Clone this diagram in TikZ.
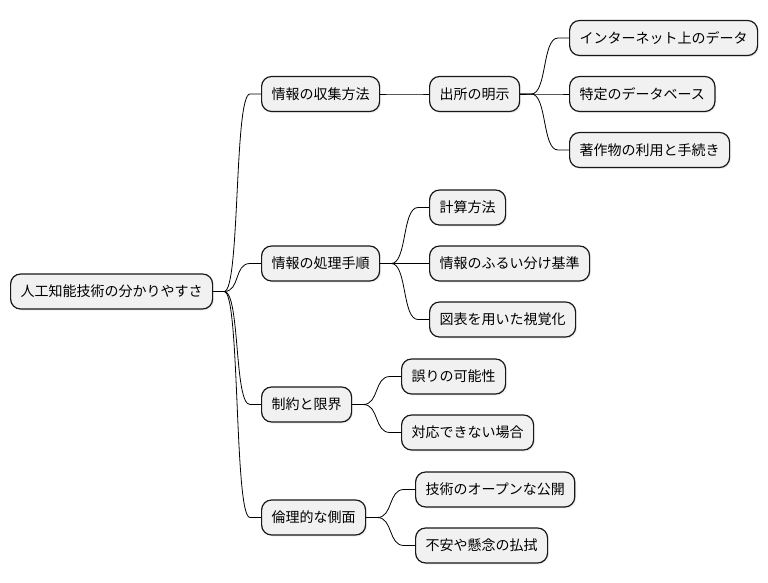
\documentclass[tikz,border=0pt]{standalone}
\usepackage{fontspec}
\setmainfont{Noto Sans CJK JP}
\usetikzlibrary{calc,shadows}
\definecolor{boxfill}{HTML}{F1F1F1}
\definecolor{boxline}{HTML}{181818}
\tikzset{
  topic/.style={draw=boxline,fill=boxfill,line width=1.2pt,rounded corners=10pt,
    minimum height=35pt,inner xsep=10pt,anchor=west,font=\fontsize{14pt}{16pt}\selectfont,
    drop shadow={shadow xshift=1.5pt,shadow yshift=-1.5pt,opacity=0.12}},
  branch/.style={to path={-- ++(11,0) .. controls +(16,0) and +(-16,0) .. ($(\tikztotarget)+(-11,0)$) -- (\tikztotarget)}}
}

\begin{document}
\begin{tikzpicture}[x=1pt,y=-1pt,line width=0.8pt]
\useasboundingbox (0,0) rectangle (768,583);
\node[topic] (root) at (10,291.5) {人工知能技術の分かりやすさ};
\node[topic] (collect) at (261,94) {情報の収集方法};
\node[topic] (source) at (429,94) {出所の明示};
\node[topic] (internet) at (569,38) {インターネット上のデータ};
\node[topic] (database) at (569,94) {特定のデータベース};
\node[topic] (copyright) at (569,150) {著作物の利用と手続き};
\node[topic] (process) at (261,263.5) {情報の処理手順};
\node[topic] (calcway) at (429,207.5) {計算方法};
\node[topic] (filter) at (429,263.5) {情報のふるい分け基準};
\node[topic] (chart) at (429,319.5) {図表を用いた視覚化};
\node[topic] (limit) at (261,404.5) {制約と限界};
\node[topic] (error) at (401,376.5) {誤りの可能性};
\node[topic] (unable) at (401,432.5) {対応できない場合};
\node[topic] (ethics) at (261,517.5) {倫理的な側面};
\node[topic] (open) at (415,489.5) {技術のオープンな公開};
\node[topic] (anxiety) at (415,545.5) {不安や懸念の払拭};
\foreach \a/\b in {root/collect,root/process,root/limit,root/ethics,
  collect/source,source/internet,source/database,source/copyright,
  process/calcway,process/filter,process/chart,
  limit/error,limit/unable,ethics/open,ethics/anxiety}
\draw (\a.east) to[branch] (\b.west);
\end{tikzpicture}
\end{document}
